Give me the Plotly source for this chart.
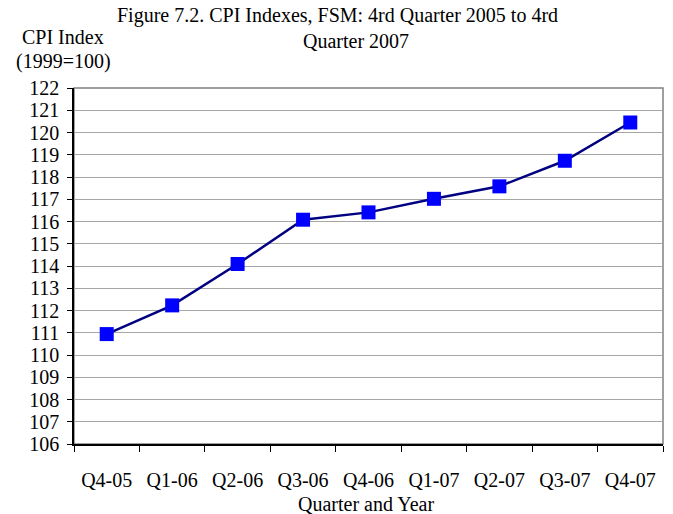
import plotly.graph_objects as go

quarters = ["Q4-05", "Q1-06", "Q2-06", "Q3-06", "Q4-06", "Q1-07", "Q2-07", "Q3-07", "Q4-07"]
cpi = [110.94, 112.23, 114.09, 116.08, 116.41, 117.02, 117.58, 118.73, 120.45]
y_ticks = list(range(106, 123))

FONT = "Liberation Serif, Times New Roman, serif"
FS = 20

fig = go.Figure()
fig.add_trace(go.Scatter(
    x=quarters, y=cpi, mode="lines+markers",
    line=dict(color="#000080", width=2.5),
    marker=dict(symbol="square", size=14, color="#0000FF", line=dict(width=0)),
    showlegend=False, cliponaxis=False,
))

fig.update_layout(
    width=673, height=514,
    margin=dict(l=74, r=10, t=88, b=70, autoexpand=False),
    paper_bgcolor="white", plot_bgcolor="white",
    font=dict(family=FONT, size=FS, color="black"),
    xaxis=dict(
        type="category", range=[-0.5, 8.5], automargin=False,
        showline=True, linecolor="black", linewidth=1.5,
        ticks="outside", tickson="boundaries", ticklen=6, tickcolor="black",
        showgrid=False, tickfont=dict(size=FS), ticklabelstandoff=17,
    ),
    yaxis=dict(
        range=[106, 122], tickvals=y_ticks, automargin=False,
        showline=True, linecolor="black", linewidth=1.5,
        ticks="outside", ticklen=5, tickcolor="black",
        showgrid=True, gridcolor="#A6A6A6", gridwidth=1,
        zeroline=False, tickfont=dict(size=FS), ticklabelstandoff=4,
    ),
    shapes=[dict(type="rect", xref="x domain", yref="y domain", x0=0, x1=1, y0=0, y1=1,
                 line=dict(color="#808080", width=1.5), layer="below")],
    annotations=[
        dict(text="Figure 7.2. CPI Indexes, FSM: 4rd Quarter 2005 to 4rd", xref="paper", yref="paper",
             x=(337 - 74) / 589, y=1 + (88 - 16) / 356, xanchor="center", yanchor="middle",
             showarrow=False, font=dict(size=FS)),
        dict(text="Quarter 2007", xref="paper", yref="paper",
             x=(356 - 74) / 589, y=1 + (88 - 41) / 356, xanchor="center", yanchor="middle",
             showarrow=False, font=dict(size=FS)),
        dict(text="CPI Index", xref="paper", yref="paper",
             x=(63 - 74) / 589, y=1 + (88 - 37) / 356, xanchor="center", yanchor="middle",
             showarrow=False, font=dict(size=FS)),
        dict(text="(1999=100)", xref="paper", yref="paper",
             x=(63 - 74) / 589, y=1 + (88 - 62) / 356, xanchor="center", yanchor="middle",
             showarrow=False, font=dict(size=FS)),
        dict(text="Quarter and Year", xref="paper", yref="paper",
             x=(366 - 74) / 589, y=-(504 - 444) / 356, xanchor="center", yanchor="middle",
             showarrow=False, font=dict(size=FS)),
    ],
)

fig.write_html("out.html", config={"displayModeBar": False},
               post_script="document.body.style.margin='0';")
